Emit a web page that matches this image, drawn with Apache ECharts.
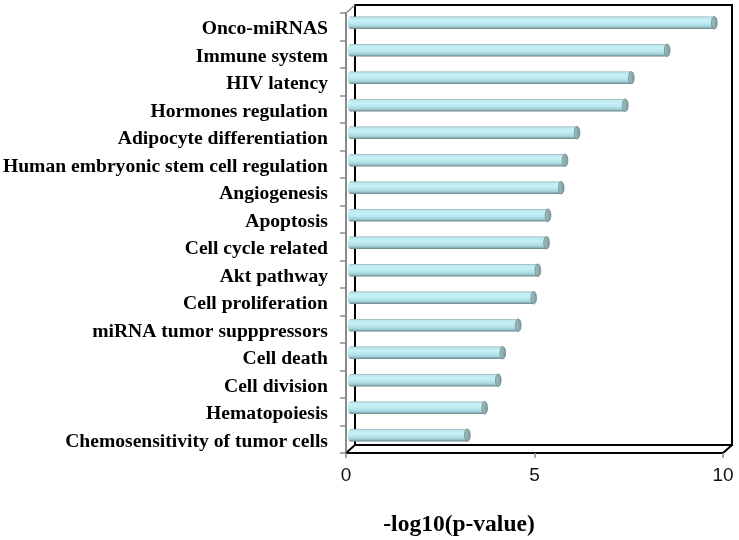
<!DOCTYPE html>
<html>
<head>
<meta charset="utf-8">
<script src="https://cdn.jsdelivr.net/npm/echarts@6/dist/echarts.min.js"></script>
<style>
html,body{margin:0;padding:0;background:#fff;}
#main{width:739px;height:540px;}
</style>
</head>
<body>
<div id="main"></div>
<script>
var categories = [
  "Onco-miRNAS",
  "Immune system",
  "HIV latency",
  "Hormones regulation",
  "Adipocyte differentiation",
  "Human embryonic stem cell regulation",
  "Angiogenesis",
  "Apoptosis",
  "Cell cycle related",
  "Akt pathway",
  "Cell proliferation",
  "miRNA tumor supppressors",
  "Cell death",
  "Cell division",
  "Hematopoiesis",
  "Chemosensitivity of tumor cells"
];
var values = [9.65, 8.40, 7.45, 7.29, 6.01, 5.69, 5.59, 5.24, 5.20, 4.97, 4.86, 4.45, 4.04, 3.92, 3.56, 3.10];
var xTicks = { min: 0, max: 10, interval: 5 };
var xAxisTitle = "-log10(p-value)";

// layout
var G = { left: 346, top: 13, width: 377, height: 440 };
var DEPTH = { dx: 9, dy: -8 };

var chart = echarts.init(document.getElementById('main'), null, { renderer: 'canvas' });

var barGrad = new echarts.graphic.LinearGradient(0, 0, 0, 1, [
  { offset: 0, color: '#8eabad' },
  { offset: 0.1, color: '#bce8ee' },
  { offset: 0.35, color: '#c6f1f7' },
  { offset: 0.62, color: '#b5e5ec' },
  { offset: 0.82, color: '#9fcdd4' },
  { offset: 0.92, color: '#83a4a7' },
  { offset: 1, color: '#678385' }
]);
var capGrad = new echarts.graphic.LinearGradient(0, 0, 1, 0, [
  { offset: 0, color: '#a4c4c7' },
  { offset: 1, color: '#7a9799' }
]);

function renderBar(params, api) {
  var idx = api.value(0);
  var v = api.value(1);
  var p0 = api.coord([0, idx]);
  var p1 = api.coord([v, idx]);
  var ox = DEPTH.dx / 2, oy = DEPTH.dy / 2;
  var h = 12.5;
  var rx = 2.8;
  var x0 = p0[0] + ox, x1 = p1[0] + ox, yc = p0[1] + oy;
  return {
    type: 'group',
    children: [
      { type: 'ellipse', shape: { cx: x0, cy: yc, rx: rx, ry: h / 2 }, style: { fill: barGrad } },
      { type: 'rect', shape: { x: x0, y: yc - h / 2, width: x1 - x0, height: h }, style: { fill: barGrad } },
      { type: 'ellipse', shape: { cx: x1, cy: yc, rx: rx, ry: h / 2 }, style: { fill: capGrad, stroke: '#6a8688', lineWidth: 0.8 } }
    ]
  };
}

var L = G.left, T = G.top, R = G.left + G.width, B = G.top + G.height;
var dx = DEPTH.dx, dy = DEPTH.dy;

var option = {
  backgroundColor: '#ffffff',
  animation: false,
  grid: { left: G.left, top: G.top, width: G.width, height: G.height, containLabel: false, outerBoundsMode: 'none' },
  xAxis: {
    type: 'value',
    min: xTicks.min, max: xTicks.max, interval: xTicks.interval,
    axisLine: { show: true, lineStyle: { color: '#000', width: 2 } },
    axisTick: { show: true, length: 5, lineStyle: { color: '#8a8a8a', width: 1.5 } },
    axisLabel: { color: '#111', fontFamily: 'Liberation Sans, Arial, sans-serif', fontSize: 19, margin: 13 },
    splitLine: { show: false }
  },
  yAxis: {
    type: 'category',
    data: categories,
    inverse: true,
    axisLine: { show: true, lineStyle: { color: '#8a8a8a', width: 2 } },
    axisTick: { show: true, length: 6, lineStyle: { color: '#8a8a8a', width: 1.5 } },
    axisLabel: {
      color: '#000', fontFamily: 'Liberation Serif, Times New Roman, serif', fontWeight: 'bold',
      fontSize: 19.6, margin: 18, verticalAlign: 'top', lineHeight: 5
    },
    splitLine: { show: false }
  },
  graphic: [
    { type: 'rect', z: -1, shape: { x: L + dx, y: T + dy, width: G.width, height: G.height }, style: { fill: '#fff', stroke: '#000', lineWidth: 2 } },
    { type: 'line', z: -1, shape: { x1: L, y1: T, x2: L + dx, y2: T + dy }, style: { stroke: '#8a8a8a', lineWidth: 1.5 } },
    { type: 'line', z: -1, shape: { x1: L, y1: B, x2: L + dx, y2: B + dy }, style: { stroke: '#000', lineWidth: 2 } },
    { type: 'line', z: -1, shape: { x1: R, y1: B, x2: R + dx, y2: B + dy }, style: { stroke: '#000', lineWidth: 2 } },
    { type: 'text', style: { text: xAxisTitle, x: 459, y: 525, textAlign: 'center', textVerticalAlign: 'middle', fill: '#000',
      font: 'bold 23.5px "Liberation Serif", "Times New Roman", serif' } }
  ],
  series: [{
    type: 'custom',
    renderItem: renderBar,
    encode: { x: 1, y: 0 },
    data: values.map(function (v, i) { return [i, v]; }),
    z: 3
  }]
};
chart.setOption(option);
</script>
</body>
</html>
